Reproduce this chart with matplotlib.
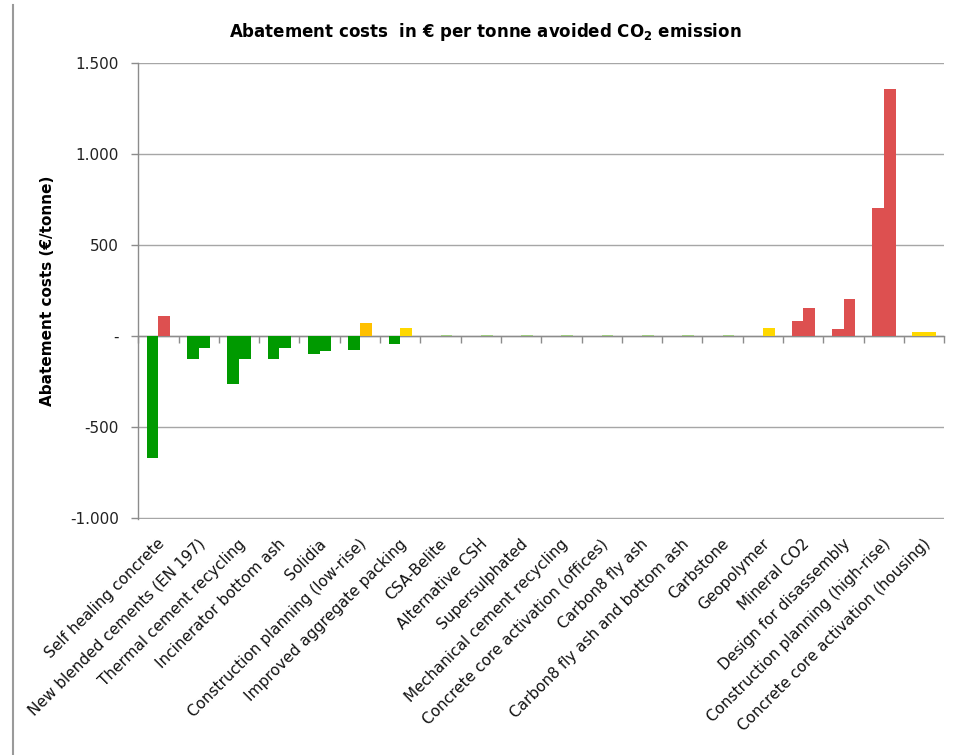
import matplotlib
matplotlib.use("Agg")
import matplotlib.pyplot as plt
from matplotlib.ticker import FuncFormatter
from matplotlib.lines import Line2D
import numpy as np

plt.rcParams['font.family'] = ['DejaVu Sans']

categories = [
    "Self healing concrete",
    "New blended cements (EN 197)",
    "Thermal cement recycling",
    "Incinerator bottom ash",
    "Solidia",
    "Construction planning (low-rise)",
    "Improved aggregate packing",
    "CSA-Belite",
    "Alternative CSH",
    "Supersulphated",
    "Mechanical cement recycling",
    "Concrete core activation (offices)",
    "Carbon8 fly ash",
    "Carbon8 fly ash and bottom ash",
    "Carbstone",
    "Geopolymer",
    "Mineral CO2",
    "Design for disassembly",
    "Construction planning (high-rise)",
    "Concrete core activation (housing)",
]

# Two cost estimates per measure (€/tonne CO2 avoided)
cost_a = [-667, -127, -261, -127, -99, -73, -44, 0, 0, 0, 0, 0, 0, 0, 0, 0, 86, 39, 706, 24]
cost_b = [112, -64, -127, -64, -83, 70, 46, 9, 9, 9, 9, 9, 9, 9, 9, 44, 154, 206, 1358, 24]

# Rating of each estimate
rating_a = ["g", "g", "g", "g", "g", "g", "g", "n", "n", "n", "n", "n", "n", "n", "n", "n",
            "r", "r", "r", "y"]
rating_b = ["r", "g", "g", "g", "g", "o", "y", "l", "l", "l", "l", "l", "l", "l", "l", "y",
            "r", "r", "r", "y"]

palette = {"g": "#009a00", "r": "#dd5050", "o": "#ffc000", "y": "#ffd800",
           "l": "#9fcc80", "n": "#ffffff"}

yticks = [-1000, -500, 0, 500, 1000, 1500]

fig = plt.figure(figsize=(9.55, 7.55), dpi=100)
ax = fig.add_axes([0.1448, 0.3122, 0.9888 - 0.1448, 0.9162 - 0.3122])

x = np.arange(len(categories))
w = 0.29
ax.bar(x - w / 2, cost_a, width=w, color=[palette[c] for c in rating_a],
       edgecolor="none", zorder=5)
ax.bar(x + w / 2, cost_b, width=w, color=[palette[c] for c in rating_b],
       edgecolor="none", zorder=5)

ax.set_xlim(-0.5, len(categories) - 0.5)
ax.set_ylim(yticks[0] - 6, yticks[-1])
ax.set_yticks(yticks)


def fmt(v, pos):
    if v == 0:
        return "-"
    s = f"{int(v):,}".replace(",", ".")
    return s


ax.yaxis.set_major_formatter(FuncFormatter(fmt))
ax.tick_params(axis="y", direction="out", length=5, width=1, color="#8c8c8c",
               labelsize=11, labelcolor="#222222", pad=9)

ax.grid(axis="y", color="#a6a6a6", linewidth=1.0, zorder=0)
ax.set_axisbelow(True)

for s in ["top", "right"]:
    ax.spines[s].set_visible(False)
ax.spines["left"].set_color("#8c8c8c")
ax.spines["left"].set_linewidth(1.0)
ax.spines["bottom"].set_position(("data", 0))
ax.spines["bottom"].set_color("#8c8c8c")
ax.spines["bottom"].set_linewidth(1.0)
ax.spines["bottom"].set_zorder(4)

ax.set_xticks(np.arange(-0.5, len(categories), 1.0))
ax.set_xticklabels([])
ax.tick_params(axis="x", direction="out", length=5, width=1, color="#8c8c8c")

for i, name in enumerate(categories):
    ax.text(i + 0.1, -0.049, name, transform=ax.get_xaxis_transform(),
            rotation=45, rotation_mode="anchor", ha="right", va="center",
            fontsize=11, color="#111111")

ax.set_ylabel("Abatement costs (€/tonne)", fontsize=11, fontweight="bold",
              labelpad=11)

fig.text(0.508, 0.958, r"Abatement costs  in € per tonne avoided CO$_\mathbf{2}$ emission",
         ha="center", va="center", fontsize=12, fontweight="bold")

# frame edge on the left
fig.add_artist(Line2D([12.5 / 955, 12.5 / 955], [0, 1 - 5 / 755],
                      transform=fig.transFigure, color="#9a9a9a", linewidth=1.5))

fig.savefig("out.png", dpi=100)
